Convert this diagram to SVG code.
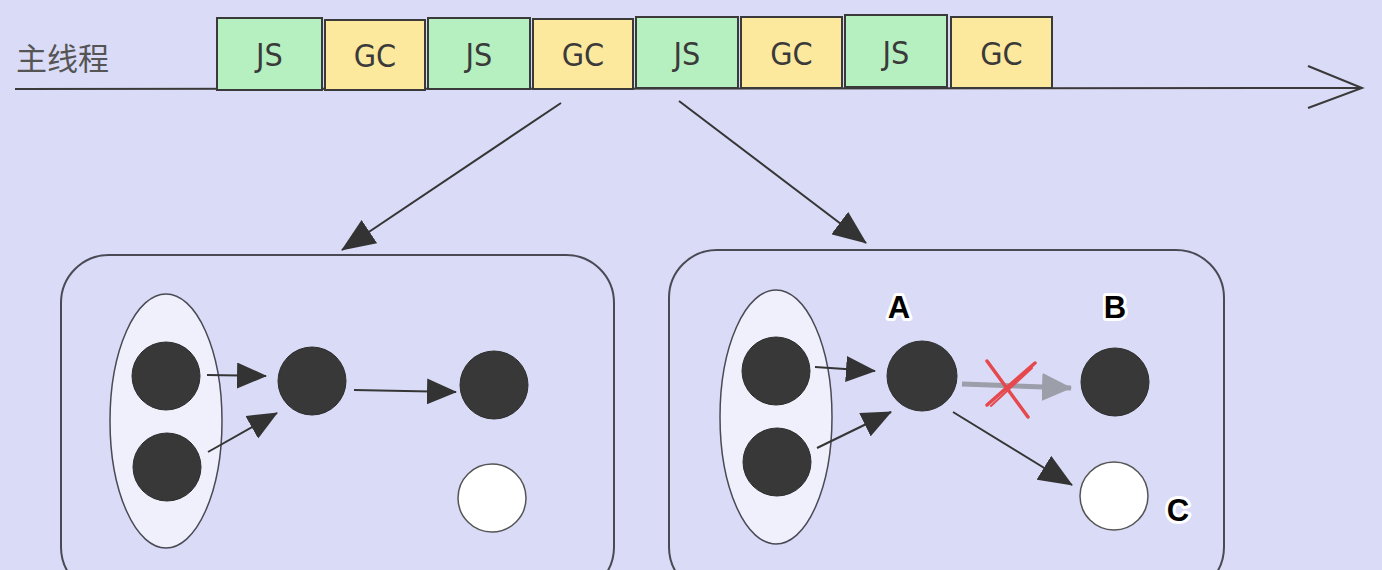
<svg xmlns="http://www.w3.org/2000/svg" width="1382" height="570" viewBox="0 0 1382 570">
<defs>
<style>
.bg{fill:#dadbf7}
.blk{stroke:#3a3a3a;stroke-width:2}
.js{fill:#b6efc0}
.gc{fill:#fde99d}
.btxt{font-family:"Liberation Sans Narrow","DejaVu Sans Condensed","Liberation Sans",Arial,sans-serif;font-size:32px;fill:#3a3a3a;text-anchor:middle}
.title{font-family:"Noto Sans CJK SC","Noto Sans",sans-serif;font-size:31px;fill:#555}
.panel{fill:none;stroke:#4a4a55;stroke-width:2}
.root{fill:#f0f0fc;stroke:#4a4a55;stroke-width:1.5}
.node{fill:#383838;stroke:#2e2e2e;stroke-width:1}
.wnode{fill:#ffffff;stroke:#555;stroke-width:1.5}
.con{stroke:#353535;stroke-width:2;fill:none}
.lbl{font-family:"Liberation Sans",Arial,sans-serif;font-weight:bold;font-size:31px;fill:#000;stroke:#fff;stroke-width:6;paint-order:stroke;stroke-linejoin:round;text-anchor:middle}
</style>
<marker id="ah" viewBox="0 0 30 26" refX="29" refY="13" markerWidth="30" markerHeight="26" markerUnits="userSpaceOnUse" orient="auto">
<path d="M0,0 L30,13 L0,26 z" fill="#333"/>
</marker>
<marker id="ahl" viewBox="0 0 34 28" refX="33" refY="14" markerWidth="34" markerHeight="28" markerUnits="userSpaceOnUse" orient="auto">
<path d="M0,0 L34,14 L0,28 z" fill="#333"/>
</marker>
<marker id="ahg" viewBox="0 0 30 28" refX="29" refY="14" markerWidth="30" markerHeight="28" markerUnits="userSpaceOnUse" orient="auto">
<path d="M0,0 L30,14 L0,28 z" fill="#9c9eaa"/>
</marker>
</defs>
<rect class="bg" x="0" y="0" width="1382" height="570"/>

<g id="timeline">
<text class="title" x="16" y="70">主线程</text>
<line x1="15" y1="89" x2="1362" y2="88" class="blk" stroke-width="2.5"/>
<polyline points="1308,66 1362,88 1308,108" class="blk" fill="none" stroke-width="2.5"/>
</g>

<g id="slice-js1"><rect class="js blk" x="217" y="18" width="105" height="72"/><text class="btxt" x="269.5" y="66">JS</text></g>
<g id="slice-gc1"><rect class="gc blk" x="325" y="20" width="100" height="70"/><text class="btxt" x="375" y="67">GC</text></g>
<g id="slice-js2"><rect class="js blk" x="428" y="18" width="102" height="71"/><text class="btxt" x="479" y="66">JS</text></g>
<g id="slice-gc2"><rect class="gc blk" x="533" y="19" width="100" height="70"/><text class="btxt" x="583" y="66">GC</text></g>
<g id="slice-js3"><rect class="js blk" x="636" y="17" width="102" height="71"/><text class="btxt" x="687" y="65">JS</text></g>
<g id="slice-gc3"><rect class="gc blk" x="741" y="17" width="101" height="71"/><text class="btxt" x="791.5" y="65">GC</text></g>
<g id="slice-js4"><rect class="js blk" x="845" y="15" width="102" height="72"/><text class="btxt" x="896" y="64">JS</text></g>
<g id="slice-gc4"><rect class="gc blk" x="951" y="17" width="101" height="71"/><text class="btxt" x="1001.5" y="65">GC</text></g>

<g id="panel-left">
<rect class="panel" x="61" y="255" width="553" height="340" rx="48" ry="48"/>
<ellipse class="root" cx="166" cy="421" rx="56" ry="127"/>
<circle class="node" cx="166" cy="376" r="34"/>
<circle class="node" cx="167" cy="467" r="34"/>
<circle class="node" cx="312" cy="381" r="34"/>
<circle class="node" cx="494" cy="385" r="34"/>
<circle class="wnode" cx="492" cy="498" r="34"/>
</g>

<g id="panel-right">
<rect class="panel" x="669" y="250" width="555" height="345" rx="48" ry="48"/>
<ellipse class="root" cx="776" cy="417" rx="56" ry="127"/>
<circle class="node" cx="776" cy="371" r="34"/>
<circle class="node" cx="777" cy="462" r="34"/>
<g id="node-a"><circle class="node" cx="922" cy="376" r="35"/><text class="lbl" x="899" y="318">A</text></g>
<g id="node-b"><circle class="node" cx="1115" cy="382" r="34"/><text class="lbl" x="1115" y="318">B</text></g>
<g id="node-c"><circle class="wnode" cx="1114" cy="496" r="34"/><text class="lbl" x="1178" y="521">C</text></g>
</g>

<g id="connectors">
<line class="con" x1="561" y1="103" x2="342" y2="250" marker-end="url(#ahl)"/>
<line class="con" x1="679" y1="101" x2="866" y2="243" marker-end="url(#ahl)"/>
<line class="con" x1="207" y1="375" x2="266" y2="376" marker-end="url(#ah)"/>
<line class="con" x1="208" y1="452" x2="277" y2="413" marker-end="url(#ah)" stroke-width="3"/>
<line class="con" x1="354" y1="390" x2="456" y2="392" marker-end="url(#ah)" stroke-width="2.5"/>
<line class="con" x1="815" y1="367" x2="875" y2="371" marker-end="url(#ah)" stroke-width="2.5"/>
<line class="con" x1="817" y1="448" x2="891" y2="412" marker-end="url(#ah)" stroke-width="3"/>
<line class="con" x1="953" y1="412" x2="1072" y2="485" marker-end="url(#ahl)"/>
<line x1="962" y1="384" x2="1071" y2="388" stroke="#9c9eaa" stroke-width="5" marker-end="url(#ahg)"/>
<g id="cross" stroke="#e5484d" stroke-width="3.5" stroke-linecap="round">
<line x1="987" y1="361" x2="1028" y2="417"/>
<line x1="1035" y1="363" x2="987" y2="405"/>
<line x1="1032" y1="368" x2="991" y2="406" stroke-width="2"/>
</g>
</g>
</svg>
